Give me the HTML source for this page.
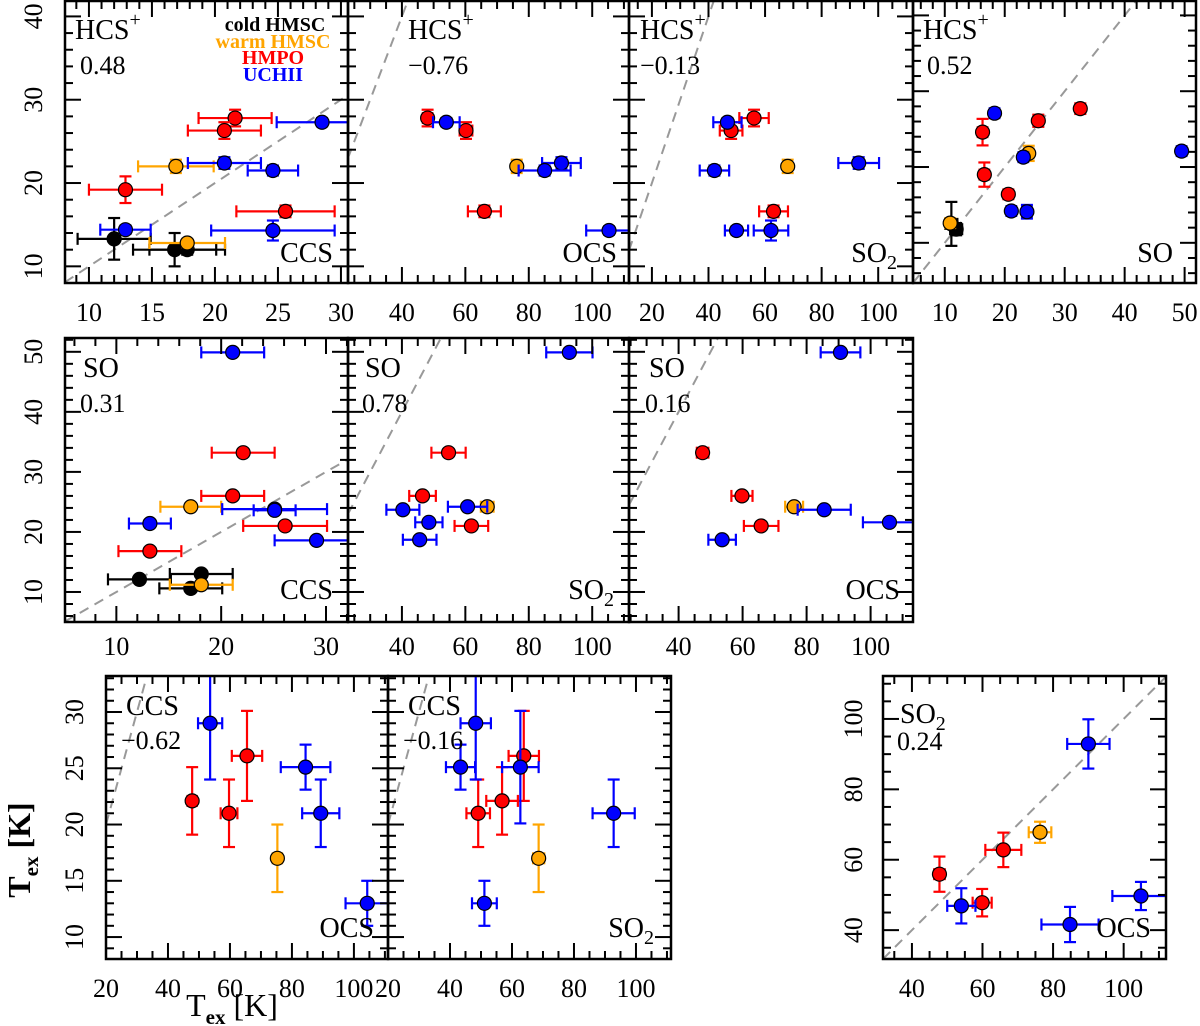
<!DOCTYPE html>
<html><head><meta charset="utf-8"><style>
html,body{margin:0;padding:0;background:#fff;}
svg{display:block;}
text{font-family:"Liberation Serif",serif;fill:#000;}
.mol{font-size:28px;}
.num{font-size:26px;}
.tick{font-size:26px;}
.leg{font-size:20px;font-weight:bold;}
</style></head><body>
<svg id="fig" width="1200" height="1026" viewBox="0 0 1200 1026" xmlns="http://www.w3.org/2000/svg">
<g id="panels"></g>
<g id="annot">
  <text class="mol" x="75" y="39">HCS<tspan font-size="20" dy="-13">+</tspan></text>
  <text class="num" x="80" y="74">0.48</text>
  <text class="mol" x="333" y="262" text-anchor="end">CCS</text>
  <g>
    <text class="leg" x="275" y="31" text-anchor="middle" style="fill:#000">cold HMSC</text>
    <text class="leg" x="273" y="48" text-anchor="middle" style="fill:#ffa500">warm HMSC</text>
    <text class="leg" x="273" y="64" text-anchor="middle" style="fill:#ff0000">HMPO</text>
    <text class="leg" x="273" y="81" text-anchor="middle" style="fill:#0000ff">UCHII</text>
  </g>
  <text class="mol" x="408" y="39">HCS<tspan font-size="20" dy="-13">+</tspan></text>
  <text class="num" x="408" y="74">−0.76</text>
  <text class="mol" x="617" y="262" text-anchor="end">OCS</text>
  <text class="mol" x="640" y="39">HCS<tspan font-size="20" dy="-13">+</tspan></text>
  <text class="num" x="640" y="74">−0.13</text>
  <text class="mol" x="897" y="262" text-anchor="end">SO<tspan font-size="20" dy="7">2</tspan></text>
  <text class="mol" x="923" y="39">HCS<tspan font-size="20" dy="-13">+</tspan></text>
  <text class="num" x="927" y="74">0.52</text>
  <text class="mol" x="1173" y="262" text-anchor="end">SO</text>
  <text class="mol" x="83" y="377">SO</text>
  <text class="num" x="80" y="412">0.31</text>
  <text class="mol" x="333" y="599" text-anchor="end">CCS</text>
  <text class="mol" x="365" y="377">SO</text>
  <text class="num" x="362" y="412">0.78</text>
  <text class="mol" x="614" y="599" text-anchor="end">SO<tspan font-size="20" dy="7">2</tspan></text>
  <text class="mol" x="649" y="377">SO</text>
  <text class="num" x="645" y="412">0.16</text>
  <text class="mol" x="900" y="599" text-anchor="end">OCS</text>
  <text class="mol" x="126" y="715">CCS</text>
  <text class="num" x="121" y="749">−0.62</text>
  <text class="mol" x="374" y="937" text-anchor="end">OCS</text>
  <text class="mol" x="408" y="715">CCS</text>
  <text class="num" x="403" y="749">−0.16</text>
  <text class="mol" x="654" y="937" text-anchor="end">SO<tspan font-size="20" dy="7">2</tspan></text>
  <text class="mol" x="900" y="723">SO<tspan font-size="20" dy="7">2</tspan></text>
  <text class="num" x="897" y="750">0.24</text>
  <text class="mol" x="1151" y="937" text-anchor="end">OCS</text>
  <text x="30" y="850" transform="rotate(-90 30 850)" text-anchor="middle" font-size="32" font-weight="bold">T<tspan font-size="21" dy="8">ex</tspan><tspan dy="-8"> [K]</tspan></text>
  <text x="232" y="1016" text-anchor="middle" font-size="32">T<tspan font-size="21" dy="8" font-weight="bold">ex</tspan><tspan dy="-8"> [K]</tspan></text>
</g>
</svg>
<script>
const p1X    = [12.0,16.8,17.8,16.9,17.8,21.6,20.75,12.9,25.6,28.5,20.75,24.6,12.9,24.6];
const p1XErr = [2.9,3.3,3.0,3.0,3.0,2.9,2.9,2.9,3.9,3.6,2.9,2.0,2.0,4.9];
const p1Y    = [13.3,12.0,12.0,22.0,12.8,27.8,26.3,19.2,16.6,27.3,22.4,21.5,14.4,14.3];
const p1YErr = [2.5,2.0,0.6,0.8,0.5,1.0,1.0,1.6,0.7,0.5,0.7,0.6,0.5,1.2];
const p1Grp  = ['k','k','k','o','o','r','r','r','r','b','b','b','b','b'];
const p2X    = [76.2,48.1,60.2,66.0,54.0,90.3,85.0,105.3];
const p2XErr = [1.5,1.5,2.0,5.2,4.2,6.1,8.2,7.2];
const p2Y    = [22.0,27.8,26.3,16.6,27.3,22.4,21.5,14.3];
const p2YErr = [0.8,1.0,1.0,0.7,0.5,0.7,0.6,0.5];
const p2Grp  = ['o','r','r','r','b','b','b','b'];
const p3X    = [68.0,56.1,48.0,63.0,46.7,42.1,93.1,49.9,62.1];
const p3XErr = [1.5,5.2,4.0,5.1,5.0,5.2,7.2,4.1,6.1];
const p3Y    = [22.0,27.8,26.3,16.6,27.3,21.5,22.4,14.3,14.3];
const p3YErr = [0.8,1.0,1.0,0.7,0.5,0.6,0.7,0.5,1.2];
const p3Grp  = ['o','r','r','r','b','b','b','b','b'];
const p4X    = [11.1,11.9,10.9,24.0,32.6,25.6,16.3,16.6,20.6,18.3,23.1,49.5,21.1,23.7];
const p4XErr = [1.0,1.0,0.8,0.8,0.8,0.8,0.8,0.8,0.8,0.8,0.8,0.8,0.8,0.8];
const p4Y    = [12.5,11.8,12.6,21.8,27.7,26.1,24.6,19.0,16.4,27.1,21.3,22.1,14.2,14.1];
const p4YErr = [2.9,0.8,0.6,1.0,0.7,0.8,1.75,1.6,0.6,0.5,0.5,0.5,0.5,0.9];
const p4Grp  = ['k','k','o','o','r','r','r','r','r','b','b','b','b','b'];
const p5X    = [12.2,18.1,17.1,18.1,17.1,22.1,21.1,26.1,13.2,21.1,25.1,25.1,13.2,29.1];
const p5XErr = [3.0,3.0,3.0,3.0,2.9,3.0,3.0,4.0,3.0,3.0,5.0,2.0,2.0,4.0];
const p5Y    = [12.1,13.0,10.6,11.2,24.2,33.2,26.0,21.0,16.8,49.9,23.8,23.6,21.4,18.6];
const p5YErr = [0.5,0.5,0.5,0.5,0.6,0.6,0.6,0.6,0.6,0.6,0.6,0.6,0.6,0.6];
const p5Grp  = ['k','k','k','o','o','r','r','r','r','b','b','b','b','b'];
const p6X    = [66.9,54.7,46.5,61.9,92.8,40.3,60.7,48.5,45.6];
const p6XErr = [2.0,5.4,4.2,5.3,7.3,5.2,6.2,4.3,5.3];
const p6Y    = [24.2,33.2,26.0,21.0,49.9,23.7,24.2,21.6,18.7];
const p6YErr = [0.6,0.6,0.6,0.6,0.6,0.6,0.6,0.6,0.6];
const p6Grp  = ['o','r','r','r','b','b','b','b','b'];
const p7X    = [76.1,47.5,59.8,65.8,90.6,85.5,105.9,53.6];
const p7XErr = [2.8,1.8,3.3,5.4,6.2,8.3,8.3,4.3];
const p7Y    = [24.2,33.2,26.0,21.0,49.9,23.7,21.6,18.7];
const p7YErr = [0.6,0.6,0.6,0.6,0.6,0.6,0.6,0.6];
const p7Grp  = ['o','r','r','r','b','b','b','b'];
const p8X    = [75.3,65.5,47.8,59.7,53.6,84.4,89.3,104.3];
const p8XErr = [1.5,4.9,1.5,2.7,3.9,8.0,6.0,7.0];
const p8Y    = [17.0,26.1,22.1,21.0,29.0,25.1,21.0,13.0];
const p8YErr = [3.0,4.0,3.0,3.0,5.0,2.0,3.0,2.0];
const p8Grp  = ['o','r','r','r','b','b','b','b'];
const p9X    = [68.6,63.8,56.8,49.1,48.3,43.4,62.7,92.8,51.1];
const p9XErr = [1.8,4.9,5.1,3.8,4.9,4.7,5.9,6.8,4.0];
const p9Y    = [17.0,26.1,22.1,21.0,29.0,25.1,25.1,21.0,13.0];
const p9YErr = [3.0,4.0,3.0,3.0,5.0,2.0,5.0,3.0,2.0];
const p9Grp  = ['o','r','r','r','b','b','b','b','b'];
const p10X    = [76.3,65.9,47.8,59.9,90.0,54.0,84.8,104.9];
const p10XErr = [3.2,5.1,1.5,2.7,6.0,4.0,8.1,8.1];
const p10Y    = [67.8,62.8,55.9,47.8,92.9,46.9,41.6,49.7];
const p10YErr = [3.0,4.9,5.0,3.9,7.0,5.0,5.0,4.0];
const p10Grp  = ['o','r','r','r','b','b','b','b'];

const COLORS = {k:'#000000', o:'#ffa500', r:'#ff0000', b:'#0000ff'};
const NS = 'http://www.w3.org/2000/svg';
const root = document.getElementById('panels');

function mk(parent, tag, attrs){
  const el = document.createElementNS(NS, tag);
  for (const k in attrs) el.setAttribute(k, attrs[k]);
  parent.appendChild(el);
  return el;
}

function drawPanel(id, c, xs, xe, ys, ye, grp){
  const g = mk(root, 'g', {});
  
  
  const sx = v => c.L + (v - c.x0) / (c.x1 - c.x0) * (c.R - c.L);
  const sy = v => c.B - (v - c.y0) / (c.y1 - c.y0) * (c.B - c.T);
  const cp = mk(g, 'clipPath', {id: 'clip-' + id});
  mk(cp, 'rect', {x: c.L, y: c.T, width: c.R - c.L, height: c.B - c.T});
  const inner = mk(g, 'g', {'clip-path': 'url(#clip-' + id + ')'});
  
  
  const lo = Math.max(c.x0, c.y0), hi = Math.min(c.x1, c.y1);
  const dl = mk(inner, 'line', {x1: sx(lo), y1: sy(lo), x2: sx(hi), y2: sy(hi), stroke: '#999', 'stroke-width': 2, 'stroke-dasharray': '10,7'});
  
  
  for (let i = 0; i < xs.length; i++){
    const col = COLORS[grp[i]];
    const px = sx(xs[i]), py = sy(ys[i]);
    const pg = mk(inner, 'g', {stroke: col, 'stroke-width': 2.2, fill: 'none'});
    
    
    const xa = sx(xs[i] - xe[i]), xb = sx(xs[i] + xe[i]);
    const ya = sy(ys[i] - ye[i]), yb = sy(ys[i] + ye[i]);
    mk(pg, 'line', {x1: xa, y1: py, x2: xb, y2: py});
    mk(pg, 'line', {x1: xa, y1: py - 6, x2: xa, y2: py + 6});
    mk(pg, 'line', {x1: xb, y1: py - 6, x2: xb, y2: py + 6});
    mk(pg, 'line', {x1: px, y1: ya, x2: px, y2: yb});
    mk(pg, 'line', {x1: px - 6, y1: ya, x2: px + 6, y2: ya});
    mk(pg, 'line', {x1: px - 6, y1: yb, x2: px + 6, y2: yb});
    mk(pg, 'circle', {cx: px, cy: py, r: 7, fill: col, stroke: '#000', 'stroke-width': 1.2});
  }
  const fr = mk(g, 'rect', {x: c.L, y: c.T, width: c.R - c.L, height: c.B - c.T, fill: 'none', stroke: '#000', 'stroke-width': 2.5});
  
  
  const tg = mk(g, 'g', {stroke: '#000', 'stroke-width': 2});
  
  
  const isMaj = (v, m) => Math.abs(v / m - Math.round(v / m)) < 1e-6;
  for (let v = Math.ceil(c.x0 / c.xmi - 1e-9) * c.xmi; v <= c.x1 + 1e-9; v += c.xmi){
    v = Math.round(v * 1000) / 1000;
    const X = sx(v), len = isMaj(v, c.xma) ? 16 : 8;
    mk(tg, 'line', {x1: X, y1: c.B, x2: X, y2: c.B - len});
    mk(tg, 'line', {x1: X, y1: c.T, x2: X, y2: c.T + len});
    if (isMaj(v, c.xma)){
      const t = mk(g, 'text', {x: X, y: c.xlY, 'text-anchor': 'middle', class: 'tick'});
      t.textContent = String(v);
      
      
    }
  }
  for (let v = Math.ceil(c.y0 / c.ymi - 1e-9) * c.ymi; v <= c.y1 + 1e-9; v += c.ymi){
    v = Math.round(v * 1000) / 1000;
    const Y = sy(v), len = isMaj(v, c.yma) ? 16 : 8;
    mk(tg, 'line', {x1: c.L, y1: Y, x2: c.L + len, y2: Y});
    mk(tg, 'line', {x1: c.R, y1: Y, x2: c.R - len, y2: Y});
    if (c.ylX && isMaj(v, c.yma)){
      const t = mk(g, 'text', {x: c.ylX, y: Y, 'text-anchor': 'middle', class: 'tick', transform: 'rotate(-90 ' + c.ylX + ' ' + Y + ')'});
      t.textContent = String(v);
      
      
    }
  }
}

const R1 = {T: 1, B: 283, xlY: 321};
const R2 = {T: 338, B: 622, xlY: 655};
const R3 = {T: 676, B: 959, xlY: 997};
drawPanel('hcs-ccs', Object.assign({}, R1, {L: 65, R: 348, x0: 8.1, x1: 30.56, y0: 8, y1: 41.85, xma: 5, xmi: 1, yma: 10, ymi: 2, ylX: 42}), p1X, p1XErr, p1Y, p1YErr, p1Grp);
drawPanel('hcs-ocs', Object.assign({}, R1, {L: 348, R: 629, x0: 23, x1: 111.6, y0: 8, y1: 41.85, xma: 20, xmi: 5, yma: 10, ymi: 2}), p2X, p2XErr, p2Y, p2YErr, p2Grp);
drawPanel('hcs-so2', Object.assign({}, R1, {L: 629, R: 913, x0: 11.9, x1: 112.3, y0: 8, y1: 41.85, xma: 20, xmi: 5, yma: 10, ymi: 2}), p3X, p3XErr, p3Y, p3YErr, p3Grp);
drawPanel('hcs-so', Object.assign({}, R1, {L: 913, R: 1196, x0: 4.7, x1: 51.9, y0: 4.7, y1: 41.9, xma: 10, xmi: 2, yma: 10, ymi: 2}), p4X, p4XErr, p4Y, p4YErr, p4Grp);
drawPanel('so-ccs', Object.assign({}, R2, {L: 65, R: 348, x0: 5.1, x1: 32.1, y0: 5, y1: 52.3, xma: 10, xmi: 2, yma: 10, ymi: 2, ylX: 42}), p5X, p5XErr, p5Y, p5YErr, p5Grp);
drawPanel('so-so2', Object.assign({}, R2, {L: 348, R: 629, x0: 23, x1: 111.6, y0: 5, y1: 52.3, xma: 20, xmi: 5, yma: 10, ymi: 2}), p6X, p6XErr, p6Y, p6YErr, p6Grp);
drawPanel('so-ocs', Object.assign({}, R2, {L: 629, R: 913, x0: 24.5, x1: 113.25, y0: 5, y1: 52.3, xma: 20, xmi: 5, yma: 10, ymi: 2}), p7X, p7XErr, p7Y, p7YErr, p7Grp);
drawPanel('ccs-ocs', Object.assign({}, R3, {L: 106, R: 388, x0: 20, x1: 111, y0: 8.05, y1: 33.2, xma: 20, xmi: 5, yma: 5, ymi: 1, ylX: 83}), p8X, p8XErr, p8Y, p8YErr, p8Grp);
drawPanel('ccs-so2', Object.assign({}, R3, {L: 388, R: 671, x0: 20, x1: 111.3, y0: 8.05, y1: 33.2, xma: 20, xmi: 5, yma: 5, ymi: 1}), p9X, p9XErr, p9Y, p9YErr, p9Grp);
drawPanel('so2-ocs', Object.assign({}, R3, {L: 883, R: 1166, x0: 31.8, x1: 112, y0: 31.8, y1: 112.2, xma: 20, xmi: 5, yma: 20, ymi: 5, ylX: 862}), p10X, p10XErr, p10Y, p10YErr, p10Grp);
</script>
</body></html>
